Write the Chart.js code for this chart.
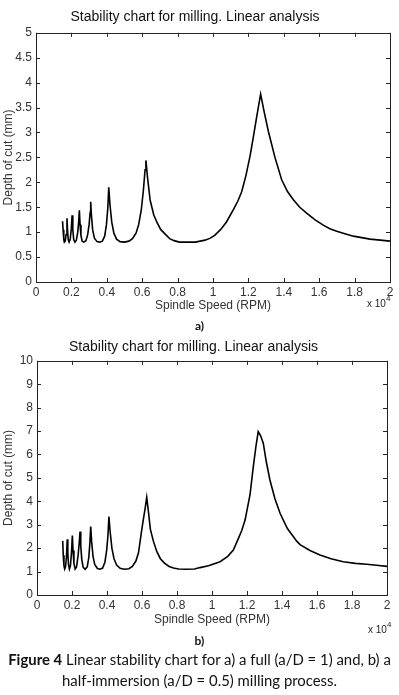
<!DOCTYPE html>
<html>
<head>
<meta charset="utf-8">
<script src="https://cdn.jsdelivr.net/npm/chart.js@4/dist/chart.umd.min.js"></script>
<style>
  body { margin: 0; background: #fff; width: 399px; height: 695px; position: relative; overflow: hidden; }
  .box { position: absolute; left: 0; }
  .txt { position: absolute; font-family: "Liberation Sans", Arial, sans-serif; color: #222; white-space: nowrap; }
  .exp { font-size: 10px; }
  .exp sup { font-size: 8px; position: relative; top: -2px; }
  .lbl { position: absolute; width: 399px; text-align: center; font-family: Lato, sans-serif; font-weight: bold; font-size: 12px; color: #111; }
  .cap { position: absolute; width: 399px; text-align: center; font-family: Lato, sans-serif; font-size: 14.9px; color: #111; white-space: nowrap; }
</style>
</head>
<body>
<div class="box" style="top:0; width:399px; height:318px;"><canvas id="chartA"></canvas></div>
<div class="box" style="top:330px; width:399px; height:300px;"><canvas id="chartB"></canvas></div>

<div class="txt exp" style="left:367px; top:296px;">x 10<sup>4</sup></div>
<div class="lbl" style="top:318px;">a)</div>
<div class="txt exp" style="left:368px; top:622px;">x 10<sup>4</sup></div>
<div class="lbl" style="top:633px;">b)</div>
<div class="cap" style="top:650px;"><b>Figure 4</b> Linear stability chart for a) a full (a/D = 1) and, b) a</div>
<div class="cap" style="top:671px;">half-immersion (a/D = 0.5) milling process.</div>

<script>
// a) full immersion - spindle speed (RPM) and depth of cut (mm)
let speedA = [1500,1530,1570,1600,1650,1700,1750,1780,1820,1870,1930,1990,2040,2080,2130,2200,2280,2360,2410,2450,
  2490,2540,2610,2700,2820,2920,3000,3060,3090,3130,3200,3300,3450,3600,3750,3880,3980,4060,4110,4180,
  4280,4400,4550,4750,5000,5250,5450,5650,5800,5950,6070,6160,6210,6300,6450,6650,6830,7050,7300,7550,
  7800,8100,8500,9000,9550,9850,10110,10450,10770,11150,11400,11620,11850,12090,12300,12470,12690,12900,13130,13500,
  13880,14200,14540,14900,15290,15750,16230,16600,16990,17450,17930,18400,18870,19450,20000];
let depthA = [1.22,1.05,0.85,0.80,0.82,0.95,1.28,1.05,0.85,0.80,0.85,1.05,1.34,1.05,0.85,0.80,0.84,1.00,1.20,1.44,
  1.15,0.93,0.82,0.80,0.83,0.95,1.15,1.40,1.61,1.35,1.05,0.88,0.81,0.80,0.82,0.92,1.15,1.50,1.90,1.55,
  1.20,0.98,0.86,0.81,0.80,0.82,0.87,0.98,1.15,1.45,1.85,2.25,2.44,2.10,1.64,1.35,1.20,1.05,0.96,0.87,
  0.83,0.80,0.80,0.80,0.84,0.88,0.94,1.06,1.21,1.45,1.62,1.81,2.12,2.52,2.95,3.32,3.77,3.40,3.02,2.50,
  2.05,1.82,1.65,1.50,1.38,1.25,1.14,1.07,1.02,0.97,0.92,0.89,0.86,0.84,0.82];

// b) half immersion
let speedB = [1470,1500,1540,1580,1630,1680,1730,1760,1800,1850,1910,1970,2020,2060,2110,2180,2260,2350,2410,2460,
  2500,2560,2640,2750,2870,2960,3020,3070,3120,3200,3300,3450,3600,3750,3880,3980,4050,4110,4180,4280,
  4400,4550,4750,5000,5250,5450,5650,5800,5950,6070,6180,6270,6360,6480,6650,6850,7050,7300,7550,7800,
  8100,8500,9000,9310,9800,10460,10900,11220,11510,11700,11890,12170,12360,12510,12640,12780,12930,13100,13310,13600,
  13890,14300,14840,15030,15600,16170,16800,17500,18200,18840,19400,20000];
let depthB = [2.31,1.70,1.25,1.11,1.20,1.60,2.38,1.80,1.30,1.11,1.25,1.80,2.54,1.90,1.35,1.11,1.20,1.70,2.20,2.71,
  2.10,1.50,1.18,1.10,1.20,1.60,2.20,2.92,2.30,1.65,1.30,1.13,1.10,1.15,1.40,1.90,2.50,3.35,2.70,2.00,
  1.55,1.28,1.14,1.10,1.12,1.22,1.45,1.80,2.60,3.20,3.70,4.17,3.60,2.80,2.30,1.85,1.55,1.35,1.22,1.15,
  1.11,1.10,1.11,1.17,1.25,1.42,1.65,1.92,2.42,2.75,3.20,4.27,5.48,6.34,6.98,6.80,6.48,5.70,4.91,4.10,
  3.49,2.85,2.30,2.15,1.90,1.71,1.55,1.42,1.35,1.31,1.27,1.22];

let chartTitle = 'Stability chart for milling. Linear analysis';
let xTitle = 'Spindle Speed (RPM)';
let yTitle = 'Depth of cut (mm)';

// box round the plot and inward tick marks, like the matlab figure
const boxPlugin = {
  id: 'boxPlugin',
  afterDatasetsDraw(chart) {
    let ctx = chart.ctx;
    let a = chart.chartArea;
    let x = chart.scales.x;
    let y = chart.scales.y;
    ctx.save();
    ctx.strokeStyle = '#222';
    ctx.lineWidth = 1;
    ctx.strokeRect(Math.round(a.left) + 0.5, Math.round(a.top) + 0.5, Math.round(a.right - a.left), Math.round(a.bottom - a.top));
    ctx.beginPath();
    x.ticks.forEach(t => {
      let px = Math.round(x.getPixelForValue(t.value)) + 0.5;
      ctx.moveTo(px, a.bottom); ctx.lineTo(px, a.bottom - 4);
      ctx.moveTo(px, a.top); ctx.lineTo(px, a.top + 4);
    });
    y.ticks.forEach(t => {
      let py = Math.round(y.getPixelForValue(t.value)) + 0.5;
      ctx.moveTo(a.left, py); ctx.lineTo(a.left + 4, py);
      ctx.moveTo(a.right, py); ctx.lineTo(a.right - 4, py);
    });
    ctx.stroke();
    ctx.restore();
  }
};

function makeChart(id, speeds, depths, yMax, yStep, o) {
  let points = speeds.map((s, i) => ({ x: s, y: depths[i] }));
  let tickFont = { family: 'Liberation Sans', size: 12 };
  return new Chart(document.getElementById(id), {
    type: 'line',
    data: {
      datasets: [{
        data: points,
        borderColor: '#000',
        borderWidth: 1.6,
        pointRadius: 0,
        tension: 0,
        fill: false
      }]
    },
    options: {
      responsive: true,
      maintainAspectRatio: false,
      animation: false,
      layout: { padding: { left: 0, right: o.right, top: 0, bottom: 0 } },
      plugins: {
        legend: { display: false },
        tooltip: { enabled: false },
        title: {
          display: true,
          text: chartTitle,
          color: '#111',
          font: { family: 'Liberation Sans', size: 14, weight: 'normal', lineHeight: 1.2 },
          padding: { top: 9, bottom: o.titleGap }
        }
      },
      scales: {
        x: {
          type: 'linear',
          min: 0,
          max: 20000,
          grid: { display: false, drawTicks: false },
          border: { display: false },
          ticks: {
            stepSize: 2000,
            color: '#333',
            font: tickFont,
            padding: 3,
            maxRotation: 0,
            callback: v => String(+(v / 10000).toFixed(1))
          },
          title: {
            display: true,
            text: xTitle,
            color: '#333',
            font: { family: 'Liberation Sans', size: 12 },
            padding: { top: 0, bottom: o.xTitlePad }
          },
          afterFit: s => { s.height = o.xHeight; }
        },
        y: {
          min: 0,
          max: yMax,
          grid: { display: false, drawTicks: false },
          border: { display: false },
          ticks: {
            stepSize: yStep,
            color: '#333',
            font: tickFont,
            padding: 4,
            callback: v => String(+v.toFixed(1))
          },
          title: {
            display: true,
            text: yTitle,
            color: '#333',
            font: { family: 'Liberation Sans', size: 12 },
            padding: { top: 1, bottom: 0 }
          },
          afterFit: s => { s.width = o.yWidth; }
        }
      }
    },
    plugins: [boxPlugin]
  });
}

makeChart('chartA', speedA, depthA, 5, 0.5, { right: 9, titleGap: 7, xHeight: 36, xTitlePad: 5, yWidth: 36 });
makeChart('chartB', speedB, depthB, 10, 1, { right: 12, titleGap: 5, xHeight: 35, xTitlePad: 3, yWidth: 37 });
</script>
</body>
</html>
